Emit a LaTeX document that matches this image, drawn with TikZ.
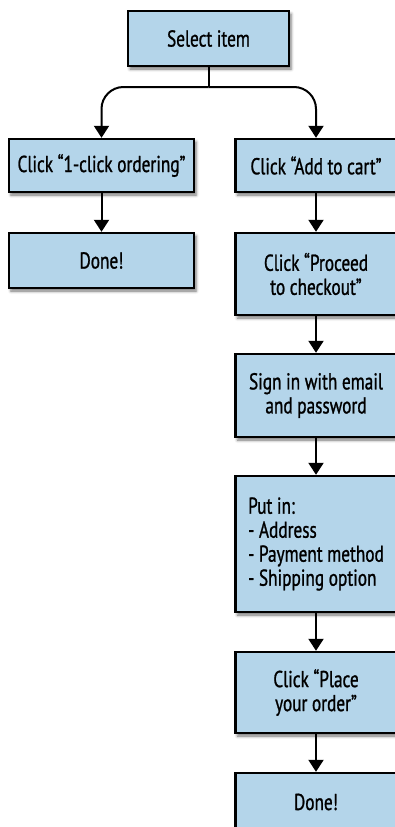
\documentclass[tikz,border=0pt]{standalone}
\usepackage{fontspec}
\setmainfont{PT Sans}[FakeStretch=0.75,FakeBold=1]
\usetikzlibrary{arrows.meta,shadows.blur}
\definecolor{boxblue}{HTML}{B4D5EA}
\begin{document}
\begin{tikzpicture}[x=1pt,y=1pt,
  box/.style={draw=black, line width=2.4pt, fill=boxblue, inner sep=0pt,
    align=center, minimum width=#1,
    blur shadow={shadow xshift=2pt, shadow yshift=-3pt, shadow blur radius=3pt, shadow opacity=55},
    font=\fontsize{23}{24}\selectfont},
  box/.default=161pt,
  conn/.style={line width=2pt, -{Triangle[width=15pt,length=12pt]}},
]
\useasboundingbox (0,0) rectangle (394,-827);
\node[box=161pt, minimum height=55pt] (sel) at (208.5,-38.5) {Select item};
\node[box=185pt, minimum height=53pt] (one) at (101.5,-165.5) {Click “1-click ordering”};
\node[box=161pt, minimum height=53pt] (cart) at (316,-165.5) {Click “Add to cart”};
\node[box=185pt, minimum height=55pt] (done1) at (101.5,-260.5) {Done!};
\node[box=161pt, minimum height=82pt] (proc) at (316,-274) {Click “Proceed\\to checkout”};
\node[box=161pt, minimum height=83pt] (sign) at (316,-395.5) {Sign in with email\\and password};
\node[box=161pt, minimum height=136pt, align=left] (put) at (316,-544) {Put in:\\- Address\\- Payment method\\- Shipping option};
\node[box=161pt, minimum height=81pt] (place) at (316,-692.5) {Click “Place\\your order”};
\node[box=161pt, minimum height=58pt] (done2) at (316,-802) {Done!};
\coordinate (j) at (208.5,-87);
\draw[line width=2pt] (sel.south) -- (j);
\draw[conn, rounded corners=22pt] (j) -| (one.north);
\draw[conn, rounded corners=22pt] (j) -| (cart.north);
\draw[conn] (one.south) -- (done1.north);
\draw[conn] (cart.south) -- (proc.north);
\draw[conn] (proc.south) -- (sign.north);
\draw[conn] (sign.south) -- (put.north);
\draw[conn] (put.south) -- (place.north);
\draw[conn] (place.south) -- (done2.north);
\end{tikzpicture}
\end{document}
